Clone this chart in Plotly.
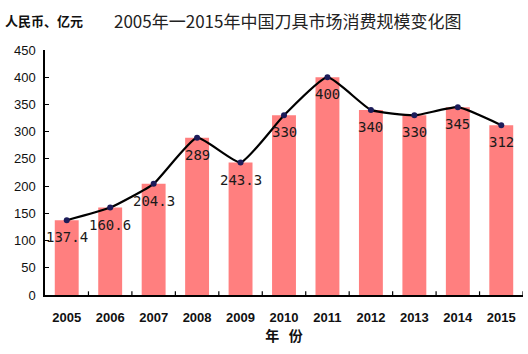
import plotly.graph_objects as go

years = ["2005", "2006", "2007", "2008", "2009", "2010", "2011", "2012", "2013", "2014", "2015"]
values = [137.4, 160.6, 204.3, 289, 243.3, 330, 400, 340, 330, 345, 312]
labels = ["137.4", "160.6", "204.3", "289", "243.3", "330", "400", "340", "330", "345", "312"]
yticks = [0, 50, 100, 150, 200, 250, 300, 350, 400, 450]

fig = go.Figure()
fig.add_trace(go.Bar(x=years, y=values, marker=dict(color="#FF7F7F", line=dict(width=0)),
                     width=0.55, hoverinfo="skip"))
fig.add_trace(go.Scatter(x=years, y=values, mode="lines+markers",
                         line=dict(color="black", width=2.2, shape="spline", smoothing=0.45),
                         marker=dict(color="#1c1c5a", size=6)))
for i, (v, t) in enumerate(zip(values, labels)):
    fig.add_annotation(xref="x", yref="y", x=i, y=v, text=t, showarrow=False, yshift=-17,
                       font=dict(family="DejaVu Sans Mono", size=14, color="#1a1a1a"))

fig.update_layout(
    width=528, height=354, showlegend=False,
    plot_bgcolor="white", paper_bgcolor="white",
    margin=dict(l=45, r=5, t=50, b=59),
)
fig.update_xaxes(type="category", range=[-0.5, 10.5], showline=True, linecolor="black", linewidth=1.5,
                 ticks="", ticklabelstandoff=10,
                 tickfont=dict(family="Liberation Sans", size=13, color="#111"),
                 title=dict(text="<b>年   份</b>", font=dict(family="Noto Sans CJK SC", size=14, color="#111"), standoff=6),
                 showgrid=False, tickprefix="<b>", ticksuffix="</b>")
fig.update_yaxes(range=[0, 450], tickvals=yticks, showline=True, linecolor="black", linewidth=1.5,
                 ticks="inside", ticklen=4, tickcolor="black", ticklabelstandoff=5,
                 tickfont=dict(family="Liberation Sans", size=13, color="#111"), showgrid=False,
                 zeroline=False, tickprefix="<b>", ticksuffix="</b>")
# boundary ticks on the x axis
for i in range(11):
    fig.add_shape(type="line", xref="x", yref="paper", x0=i + 0.5, x1=i + 0.5, y0=0, y1=0.015,
                  line=dict(color="black", width=1.2))
fig.add_annotation(xref="paper", yref="paper", x=-0.088, y=1.122, xanchor="left", yanchor="middle",
                   text="<b>人民币、亿元</b>", showarrow=False,
                   font=dict(family="Noto Sans CJK SC", size=13, color="#111"))
fig.add_annotation(xref="paper", yref="paper", x=0.14, y=1.122, xanchor="left", yanchor="middle",
                   text="2005年一2015年中国刀具市场消费规模变化图", showarrow=False,
                   font=dict(family="Noto Sans CJK SC", size=17, color="#222"))
fig.write_html("out.html")
